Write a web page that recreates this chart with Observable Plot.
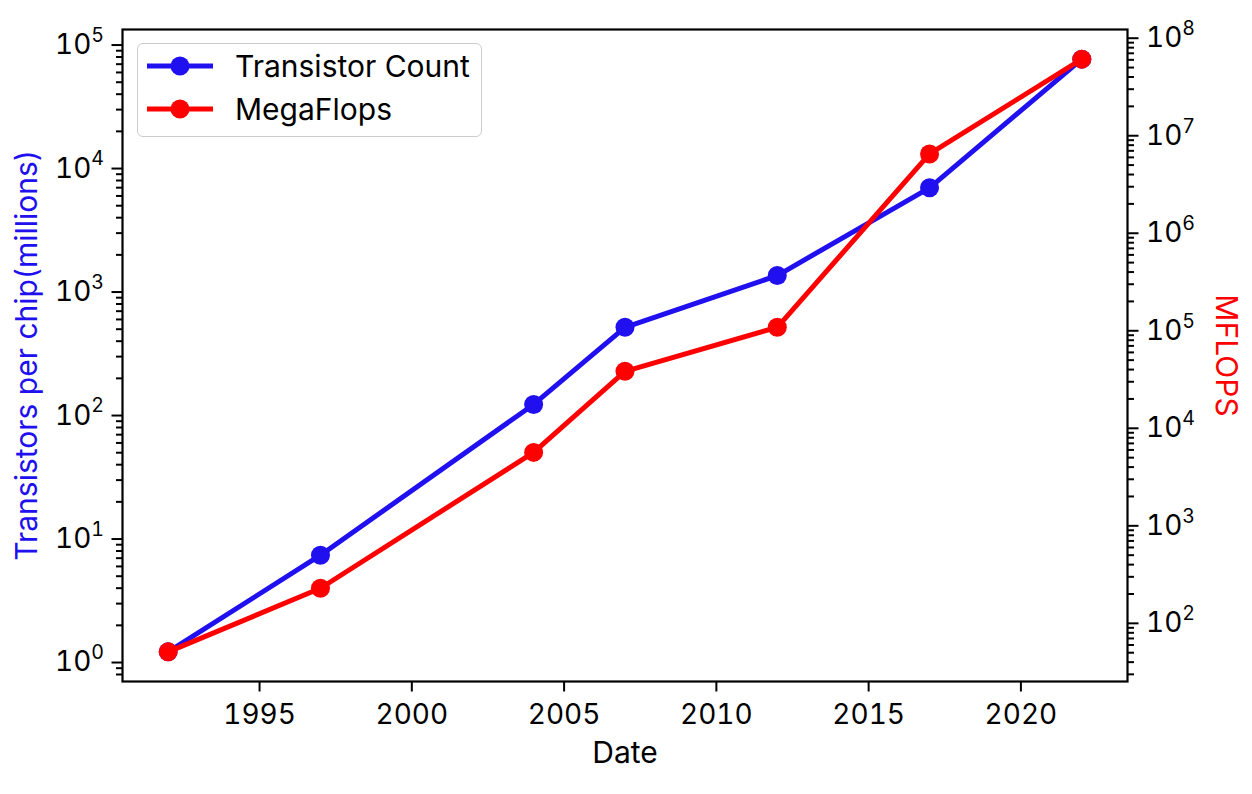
<!DOCTYPE html>
<html>
<head>
<meta charset="utf-8">
<script src="https://cdn.jsdelivr.net/npm/d3@7"></script>
<script src="https://cdn.jsdelivr.net/npm/@observablehq/plot@0.6"></script>
<style>
  html, body { margin: 0; padding: 0; background: #fff; }
  #wrap { position: relative; width: 1252px; height: 794px; font-family: Inter, "DejaVu Sans", sans-serif; }
  #legend { position: absolute; left: 137px; top: 43px; width: 343px; height: 92px; border: 1.5px solid #cccccc; border-radius: 6px; background: rgba(255,255,255,0.85); }
  .row { position: absolute; left: 0; height: 30px; display: flex; align-items: center; }
  .row span { font-size: 30px; color: #000; }
</style>
</head>
<body>
<div id="wrap"></div>
<script>
// ---- data ----
const years = [1992, 1997, 2004, 2007, 2012, 2017, 2022];
const transistors = [1.22, 7.4, 123, 518, 1360, 6980, 76900];      // millions per chip
const mflops = [51, 229, 5660, 38400, 108600, 6.5e6, 6.1e7];         // MFLOPS
const xTicks = [1995, 2000, 2005, 2010, 2015, 2020];
const leftExponents = [0, 1, 2, 3, 4, 5];
const rightExponents = [2, 3, 4, 5, 6, 7, 8];
const seriesNames = ["Transistor Count", "MegaFlops"];
const colors = ["#2010f0", "#ff0000"];

// ---- scales: y is log10 space (matplotlib-like 5% margins) ----
function logDomain(vals) {
  const l = vals.map(Math.log10);
  const lo = d3.min(l), hi = d3.max(l), m = (hi - lo) * 0.05;
  return [lo - m, hi + m];
}
const L = logDomain(transistors);
const R = logDomain(mflops);
const rToL = lr => L[0] + (lr - R[0]) * (L[1] - L[0]) / (R[1] - R[0]);
const lToR = ll => R[0] + (ll - L[0]) * (R[1] - R[0]) / (L[1] - L[0]);
const xDom = [years[0] - (years[6] - years[0]) * 0.05, years[6] + (years[6] - years[0]) * 0.05];

function minorLogs(lo, hi) {
  const out = [];
  for (let e = Math.floor(lo) - 1; e <= Math.ceil(hi); e++)
    for (let k = 2; k <= 9; k++) {
      const lv = Math.log10(k) + e;
      if (lv >= lo && lv <= hi) out.push(lv);
    }
  return out;
}
const leftMinor = minorLogs(L[0], L[1]);
const rightMinor = minorLogs(R[0], R[1]).map(rToL);

const sup = {"0":"⁰","1":"¹","2":"²","3":"³","4":"⁴","5":"⁵","6":"⁶","7":"⁷","8":"⁸","9":"⁹","-":"⁻"};
const powLabel = e => "10" + String(Math.round(e)).split("").map(c => sup[c]).join("");

const tData = years.map((y, i) => ({year: y, lv: Math.log10(transistors[i])}));
const mData = years.map((y, i) => ({year: y, lv: rToL(Math.log10(mflops[i]))}));

const chart = Plot.plot({
  width: 1252,
  height: 794,
  marginLeft: 122,
  marginRight: 125,
  marginTop: 29,
  marginBottom: 113,
  style: {fontFamily: "Inter, 'DejaVu Sans', sans-serif", fontSize: "28px", color: "#000", background: "#fff"},
  x: {domain: xDom},
  y: {type: "linear", domain: L},
  marks: [
    Plot.axisX(xTicks, {tickSize: 10.5, tickPadding: 12, strokeWidth: 2, tickFormat: d => String(d), label: null}),
    Plot.axisY(leftMinor, {anchor: "left", tickSize: 6, strokeWidth: 2, tickFormat: () => "", label: null}),
    Plot.axisY(leftExponents, {anchor: "left", tickSize: 10.5, tickPadding: 8, strokeWidth: 2, tickFormat: powLabel, label: null}),
    Plot.axisY(rightMinor, {anchor: "right", tickSize: 6, strokeWidth: 2, tickFormat: () => "", label: null}),
    Plot.axisY(rightExponents.map(rToL), {anchor: "right", tickSize: 10.5, tickPadding: 8, strokeWidth: 2, tickFormat: d => powLabel(lToR(d)), label: null}),
    Plot.text(["Transistors per chip(millions)"], {frameAnchor: "left", dx: -95, rotate: -90, textAnchor: "middle", fill: colors[0], fontSize: 30}),
    Plot.text(["MFLOPS"], {frameAnchor: "right", dx: 98, rotate: 90, textAnchor: "middle", fill: colors[1], fontSize: 30}),
    Plot.text(["Date"], {frameAnchor: "bottom", dy: 81, textAnchor: "middle", fill: "#000", fontSize: 30}),
    Plot.line(tData, {x: "year", y: "lv", stroke: colors[0], strokeWidth: 5}),
    Plot.dot(tData, {x: "year", y: "lv", r: 9.5, fill: colors[0]}),
    Plot.line(mData, {x: "year", y: "lv", stroke: colors[1], strokeWidth: 5}),
    Plot.dot(mData, {x: "year", y: "lv", r: 9.5, fill: colors[1]}),
    Plot.frame({stroke: "#000", strokeWidth: 2.2})
  ]
});

// render exponents as raised, smaller tspans (still real text)
const invSup = Object.fromEntries(Object.entries(sup).map(([k, v]) => [v, k]));
d3.select(chart).selectAll("text").each(function() {
  const m = /^10([⁰¹²³⁴⁵⁶⁷⁸⁹⁻]+)$/.exec(this.textContent);
  if (!m) return;
  const exp = m[1].split("").map(c => invSup[c]).join("");
  this.textContent = "10";
  const ts = document.createElementNS("http://www.w3.org/2000/svg", "tspan");
  ts.setAttribute("font-size", "70%");
  ts.setAttribute("dy", "-0.62em");
  ts.textContent = exp;
  this.appendChild(ts);
});

const wrap = document.getElementById("wrap");
wrap.appendChild(chart);

const legend = document.createElement("div");
legend.id = "legend";
seriesNames.forEach((name, i) => {
  const row = document.createElement("div");
  row.className = "row";
  row.style.top = (i === 0 ? 7 : 50) + "px";
  row.innerHTML = `<svg width="66" height="30" style="margin-left:9px"><line x1="0" y1="15" x2="66" y2="15" stroke="${colors[i]}" stroke-width="5"/><circle cx="33" cy="15" r="9.5" fill="${colors[i]}"/></svg><span style="margin-left:22px">${name}</span>`;
  legend.appendChild(row);
});
wrap.appendChild(legend);
</script>
</body>
</html>
